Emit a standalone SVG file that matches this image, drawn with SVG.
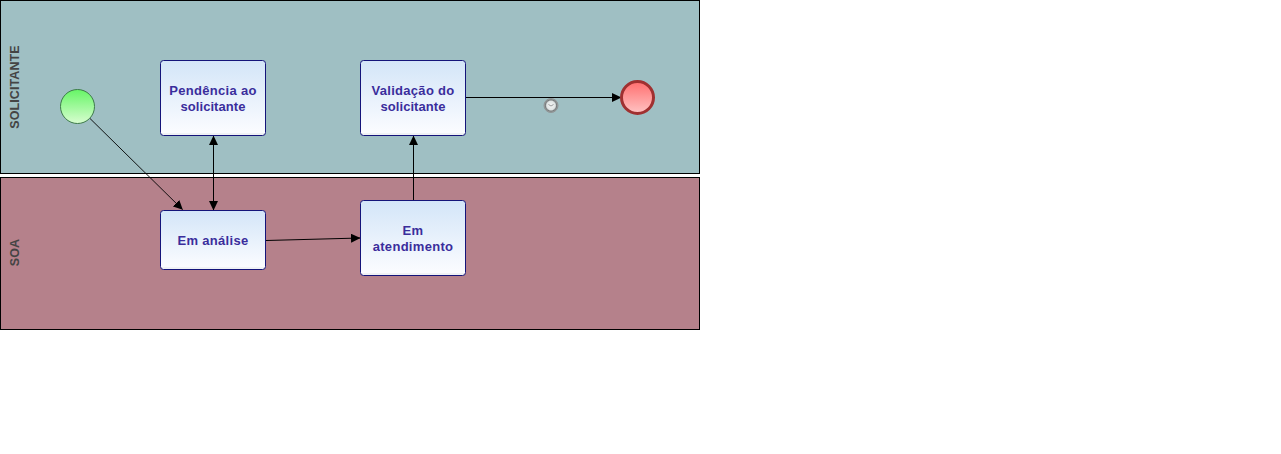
<svg xmlns="http://www.w3.org/2000/svg" width="1281" height="454" viewBox="0 0 1281 454">
<style>
.lane{stroke:#000;stroke-width:1}
.lbl{font:bold 12.500px "Liberation Sans",Arial,sans-serif;fill:#444;text-anchor:middle;letter-spacing:.1px}
.task rect{fill:url(#tg);stroke:#14147a;stroke-width:1}
.task text{font:bold 13px "Liberation Sans",Arial,sans-serif;fill:#3a2d9c;text-anchor:middle;letter-spacing:.3px}
.task text.n{letter-spacing:.05px}
.c{fill:none;stroke:#000;stroke-width:1}
.c1{fill:none;stroke:#000;stroke-width:.9}
</style>
<defs>
<linearGradient id="tg" x1="0" y1="0" x2="0" y2="1"><stop offset="0" stop-color="#d3e5f8"/><stop offset=".96" stop-color="#fbfcff"/><stop offset=".965" stop-color="#f0f2f5"/><stop offset="1" stop-color="#f0f2f5"/></linearGradient>
<linearGradient id="sg" x1="0" y1="0" x2="0" y2="1"><stop offset="0" stop-color="#66f566"/><stop offset="1" stop-color="#d8fdd0"/></linearGradient>
<linearGradient id="eg" x1="0" y1="0" x2="0" y2="1"><stop offset="0" stop-color="#ff6e6e"/><stop offset="1" stop-color="#ffc4c4"/></linearGradient>
<radialGradient id="clk"><stop offset="0" stop-color="#f4f6f6"/><stop offset=".62" stop-color="#e0e4e4"/><stop offset=".8" stop-color="#777c7d"/><stop offset="1" stop-color="#a4a8a8"/></radialGradient>
<marker id="a" markerUnits="userSpaceOnUse" markerWidth="10" markerHeight="9" refX="9" refY="4.500" orient="auto-start-reverse"><path d="M0 0L9.500 4.500L0 9Z" fill="#000"/></marker>
</defs>
<g id="lane-solicitante"><rect class="lane" x="0.500" y="0.500" width="699" height="173" fill="#9fbfc3"/><text class="lbl" transform="translate(19 87) rotate(-90)">SOLICITANTE</text></g>
<g id="lane-soa"><rect class="lane" x="0.500" y="177.500" width="699" height="152" fill="#b5818b"/><text class="lbl" transform="translate(19 252.500) rotate(-90)">SOA</text></g>
<g id="timer"><circle cx="551" cy="105.500" r="7" fill="url(#clk)" stroke="#8f9495" stroke-width="1"/><path d="M548.500 104.500L551 106L553.500 104.500" fill="none" stroke="#777" stroke-width=".7"/></g>
<g id="connectors">
<path class="c1" d="M89.500 118L182.500 209.500" marker-end="url(#a)"/>
<path class="c" d="M213.500 136V210" marker-start="url(#a)" marker-end="url(#a)"/>
<path class="c" d="M266 240.500L360 238" marker-end="url(#a)"/>
<path class="c" d="M413.500 200V136" marker-end="url(#a)"/>
<path class="c" d="M466 97.500H621" marker-end="url(#a)"/>
</g>
<g id="start"><circle cx="77.500" cy="106.500" r="17" fill="url(#sg)" stroke="#3d7a4a" stroke-width="1"/></g>
<g id="pendencia" class="task"><rect x="160.500" y="60.500" width="105" height="75" rx="3"/><text x="213" y="95">Pendência ao</text><text class="n" x="213" y="111">solicitante</text></g>
<g id="validacao" class="task"><rect x="360.500" y="60.500" width="105" height="75" rx="3"/><text x="413" y="95">Validação do</text><text class="n" x="413" y="111">solicitante</text></g>
<g id="analise" class="task"><rect x="160.500" y="210.500" width="105" height="59" rx="3"/><text x="213" y="245">Em análise</text></g>
<g id="atendimento" class="task"><rect x="360.500" y="200.500" width="105" height="75" rx="3"/><text x="413" y="235">Em</text><text x="413" y="251">atendimento</text></g>
<g id="end"><circle cx="637.500" cy="97.500" r="16" fill="url(#eg)" stroke="#a03030" stroke-width="3"/></g>
</svg>
